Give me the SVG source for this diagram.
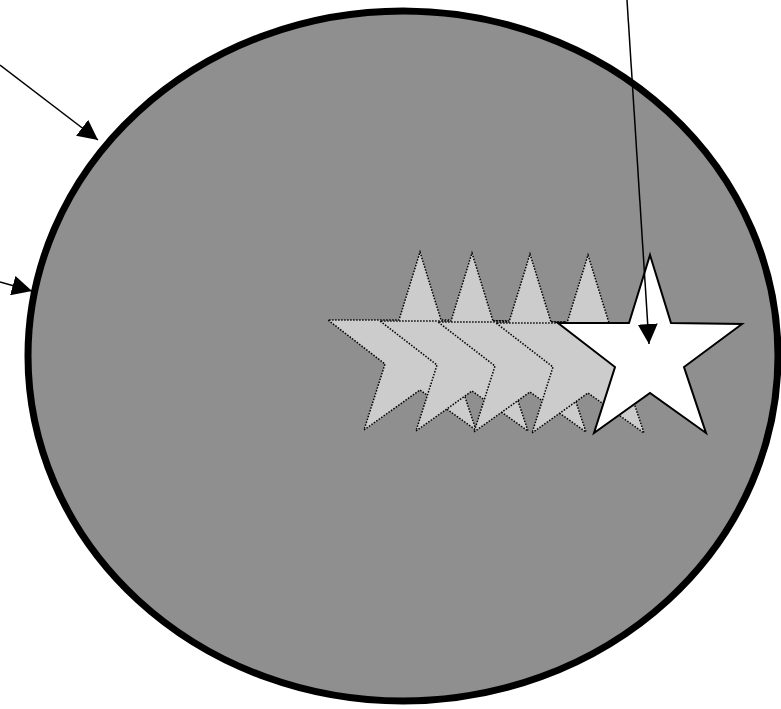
<svg xmlns="http://www.w3.org/2000/svg" xmlns:xlink="http://www.w3.org/1999/xlink" width="781" height="709" viewBox="0 0 781 709">
<style>
.ghost{fill:#cccccc;stroke:#000;stroke-width:1.5;stroke-dasharray:1.5,1.5}
.solid{fill:#ffffff;stroke:#000;stroke-width:2}
.conn{fill:none;stroke:#000;stroke-width:1.5}
</style>
<defs>
<polygon id="star" points="0,0 21,68 92,69 34,112 56,178 0,138 -56,178 -35,112 -92,68 -21,68"/>
<marker id="ah" markerUnits="userSpaceOnUse" markerWidth="20" markerHeight="20" refX="20" refY="10" orient="auto" viewBox="0 0 20 20">
<path d="M0,0 L20,10 L0,20 z" fill="#000"/>
</marker>
</defs>
<rect width="781" height="709" fill="#ffffff"/>
<g id="circle">
<ellipse cx="403" cy="356" rx="375" ry="345" fill="#8f8f8f" stroke="#000" stroke-width="7"/>
</g>
<g id="star1"><use xlink:href="#star" href="#star" class="ghost" transform="translate(420,252)"/></g>
<g id="star2"><use xlink:href="#star" href="#star" class="ghost" transform="translate(472,253)"/></g>
<g id="star3"><use xlink:href="#star" href="#star" class="ghost" transform="translate(530,254)"/></g>
<g id="star4"><use xlink:href="#star" href="#star" class="ghost" transform="translate(588,255)"/></g>
<g id="star5"><use xlink:href="#star" href="#star" class="solid" transform="translate(650,255)"/></g>
<g id="connectors">
<line class="conn" x1="0" y1="65" x2="98" y2="140" marker-end="url(#ah)"/>
<line class="conn" x1="0" y1="282" x2="32" y2="291" marker-end="url(#ah)"/>
<line class="conn" x1="627" y1="0" x2="649" y2="344" marker-end="url(#ah)"/>
</g>
</svg>
